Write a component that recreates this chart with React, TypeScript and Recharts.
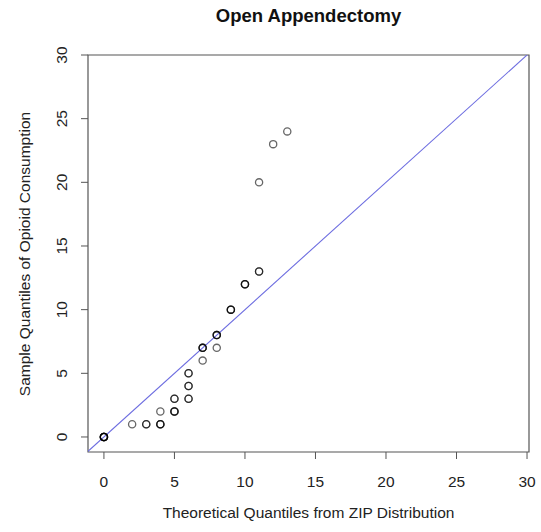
import { ScatterChart, Scatter, XAxis, YAxis, ReferenceLine, ReferenceArea, Customized } from "recharts"

// quantile pairs, repeated where several observations sit on the same spot
const theoretical = [0, 0, 0, 0, 0, 0, 2, 3, 3, 4, 4, 4, 4, 5, 5, 5, 5, 5, 6, 6, 6, 6, 6, 6, 7, 7, 7, 7, 8, 8, 8, 8, 9, 9, 9, 10, 10, 10, 11, 11, 11, 12, 13]
const sample = [0, 0, 0, 0, 0, 0, 1, 1, 1, 1, 1, 1, 2, 2, 2, 2, 3, 3, 3, 3, 4, 4, 5, 5, 6, 7, 7, 7, 7, 8, 8, 8, 10, 10, 10, 12, 12, 12, 13, 13, 20, 23, 24]
const ticks = [0, 5, 10, 15, 20, 25, 30]

const title = "Open Appendectomy"
const xTitle = "Theoretical Quantiles from ZIP Distribution"
const yTitle = "Sample Quantiles of Opioid Consumption"

const X_DOMAIN: [number, number] = [-1.13, 30.14]
const Y_DOMAIN: [number, number] = [-1.18, 30]

const font = "'Liberation Sans', Arial, Helvetica, sans-serif"
const ink = "#222"
const frame = "#555"

const points = theoretical.map((t, i) => ({ x: t, y: sample[i] }))

const Ring = (props: any) => (
  <circle cx={props.cx} cy={props.cy} r={3.6} fill="none" stroke="#000" strokeOpacity={0.6} strokeWidth={1.3} />
)

const XTick = (props: any) => (
  <text x={props.x} y={487} textAnchor="middle" fontSize={15.5} fontFamily={font} fill={ink}>
    {props.payload.value}
  </text>
)

const YTick = (props: any) => (
  <text
    x={67}
    y={props.y}
    transform={`rotate(-90 67 ${props.y})`}
    textAnchor="middle"
    fontSize={15.5}
    fontFamily={font}
    fill={ink}
  >
    {props.payload.value}
  </text>
)

const Titles = () => (
  <g fontFamily={font} fill={ink}>
    <text x={308.5} y={22} textAnchor="middle" fontSize={18.5} fontWeight="bold" fill="#111">
      {title}
    </text>
    <text x={308.5} y={518} textAnchor="middle" fontSize={15.5}>
      {xTitle}
    </text>
    <text x={30} y={254} transform="rotate(-90 30 254)" textAnchor="middle" fontSize={15.5}>
      {yTitle}
    </text>
  </g>
)

export default function App() {
  return (
    <div style={{ position: "absolute", left: 0, top: 0, background: "#fff" }}>
      <ScatterChart width={541} height={532} margin={{ top: 55, right: 12, bottom: 0, left: 0 }}>
        <XAxis
          type="number"
          dataKey="x"
          domain={X_DOMAIN}
          ticks={ticks}
          allowDataOverflow
          axisLine={false}
          tickLine={{ stroke: frame }}
          tickSize={7}
          height={80}
          tick={XTick}
        />
        <YAxis
          type="number"
          dataKey="y"
          domain={Y_DOMAIN}
          ticks={ticks}
          allowDataOverflow
          axisLine={false}
          tickLine={{ stroke: frame }}
          tickSize={7}
          width={88}
          tick={YTick}
        />
        <ReferenceArea x1={X_DOMAIN[0]} x2={X_DOMAIN[1]} y1={Y_DOMAIN[0]} y2={Y_DOMAIN[1]} fill="none" stroke={frame} strokeWidth={1.2} />
        <Scatter data={points} shape={Ring} isAnimationActive={false} />
        <ReferenceLine
          segment={[{ x: -1.2, y: -1.2 }, { x: 30.2, y: 30.2 }]}
          ifOverflow="hidden"
          stroke="#6d6de0"
          strokeWidth={1.1}
        />
        <Customized component={Titles} />
      </ScatterChart>
    </div>
  )
}
